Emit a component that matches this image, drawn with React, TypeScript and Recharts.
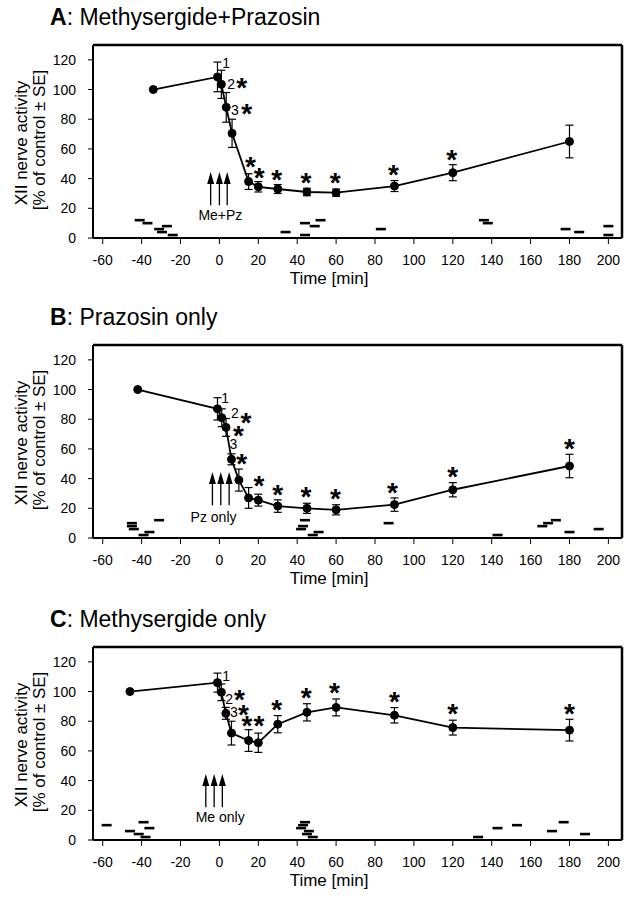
import React from "react";
import {
  ComposedChart,
  ErrorBar,
  Line,
  ReferenceLine,
  Scatter,
  XAxis,
  YAxis,
} from "recharts";

const FONT = "'Liberation Sans', Arial, sans-serif";

const xTicks = [-60, -40, -20, 0, 20, 40, 60, 80, 100, 120, 140, 160, 180, 200];
const yTicks = [0, 20, 40, 60, 80, 100, 120];

// A: Methysergide+Prazosin
const aTime = [-34, -1, 1, 3.5, 6.5, 15, 20, 30, 45, 60, 90, 120, 180];
const aMean = [100, 108.5, 103.5, 88, 70.5, 38, 34.5, 33, 31, 30.5, 35, 44, 65];
const aSE = [0, 10, 9.5, 10, 9.5, 5.3, 3.5, 3, 2.5, 2.5, 3.7, 5.4, 11];
const aStars = [
  { x: 11.5, y: 106 }, { x: 14, y: 88 }, { x: 16, y: 52.5 }, { x: 20.5, y: 45.3 },
  { x: 29.5, y: 44 }, { x: 44.5, y: 42 }, { x: 59.5, y: 42 }, { x: 89.5, y: 47 },
  { x: 119.5, y: 57 },
];
const aNums = [{ x: 3.4, y: 118, t: "1" }, { x: 6, y: 104, t: "2" }, { x: 8, y: 86.5, t: "3" }];
const aDashes = [
  { x: -41, y: 12 }, { x: -37, y: 10 }, { x: -31, y: 6 }, { x: -29.5, y: 4 },
  { x: -27, y: 8 }, { x: -24, y: 2 }, { x: 34, y: 4 }, { x: 44, y: 10 },
  { x: 44, y: 2 }, { x: 49, y: 8 }, { x: 52, y: 12 }, { x: 83, y: 6 },
  { x: 136, y: 12 }, { x: 138, y: 10 }, { x: 178, y: 6 }, { x: 185, y: 4 },
  { x: 200, y: 8 }, { x: 200, y: 2 },
];
const aArrows = [-4.5, 0, 4];
const aDrug = [{ x: 0.5, y: 15.5, t: "Me+Pz" }];

// B: Prazosin only
const bTime = [-42, -1, 1.2, 3.4, 6.2, 10, 15, 20, 30, 45, 60, 90, 120, 180];
const bMean = [100, 87, 81, 74.5, 53, 39, 27, 25.5, 21.5, 20, 19, 22.5, 32.5, 48.5];
const bSE = [0, 7.5, 6, 6, 3.7, 7.4, 7, 4, 4.2, 3.4, 3.4, 4.5, 4.8, 7.9];
const bStars = [
  { x: 13.6, y: 82 }, { x: 9.8, y: 73.5 }, { x: 11.5, y: 54.5 }, { x: 20.3, y: 39.5 },
  { x: 30, y: 34 }, { x: 44.5, y: 32.2 }, { x: 59.7, y: 31 }, { x: 89, y: 35 },
  { x: 120, y: 45.7 }, { x: 180, y: 65 },
];
const bNums = [{ x: 2.9, y: 94.5, t: "1" }, { x: 8, y: 84, t: "2" }, { x: 7.2, y: 63, t: "3" }];
const bDashes = [
  { x: -45, y: 10 }, { x: -45, y: 8 }, { x: -44, y: 6 }, { x: -39, y: 2 },
  { x: -36, y: 4 }, { x: -31, y: 12 }, { x: 44, y: 12 }, { x: 43, y: 8 },
  { x: 42, y: 6 }, { x: 48, y: 2 }, { x: 51, y: 4 }, { x: 87, y: 10 },
  { x: 143, y: 2 }, { x: 166, y: 8 }, { x: 169, y: 10 }, { x: 173, y: 12 },
  { x: 180, y: 4 }, { x: 195, y: 6 },
];
const bArrows = [-3.6, 0.7, 5];
const bDrug = [{ x: -3, y: 14.4, t: "Pz only" }];

// C: Methysergide only
const cTime = [-46, -1, 1, 3.3, 6.2, 15, 20, 30, 45, 60, 90, 120, 180];
const cMean = [100, 106, 99.5, 85.3, 72, 67, 65.5, 78, 86, 89.3, 84, 75.7, 74];
const cSE = [0, 6.4, 5.6, 4, 8, 7.3, 6.5, 5.8, 5.8, 5.7, 5.2, 5, 7.3];
const cStars = [
  { x: 10.3, y: 99 }, { x: 12.4, y: 88.6 }, { x: 14.1, y: 81.2 }, { x: 20.3, y: 81.2 },
  { x: 29.5, y: 92.4 }, { x: 44.6, y: 100.3 }, { x: 59.2, y: 103.8 }, { x: 90, y: 97.6 },
  { x: 120, y: 89.3 }, { x: 180, y: 89.3 },
];
const cNums = [{ x: 3.4, y: 110.8, t: "1" }, { x: 5, y: 95, t: "2" }, { x: 7.4, y: 86.3, t: "3" }];
const cDashes = [
  { x: -58, y: 10 }, { x: -46, y: 6 }, { x: -41.5, y: 4 }, { x: -39, y: 12 },
  { x: -38, y: 2 }, { x: -36, y: 8 }, { x: 44, y: 12 }, { x: 43, y: 10 },
  { x: 42, y: 8 }, { x: 46, y: 6 }, { x: 45, y: 4 }, { x: 48, y: 2 },
  { x: 133, y: 2 }, { x: 143, y: 8 }, { x: 153, y: 10 }, { x: 171, y: 6 },
  { x: 177, y: 12 }, { x: 188, y: 4 },
];
const cArrows = [-7, -2.7, 1.5];
const cDrug = [{ x: 0.4, y: 15.7, t: "Me only" }];

// chart box; plot area is what's left inside the margins + axis sizes
const W = 632;
const H = 300;
const M = { top: 45, right: 10, bottom: 32, left: 53 };
const Y_AXIS_W = 40;
const X_AXIS_H = 30;

const StarShape = (p: any) => (
  <text x={p.cx} y={p.cy + 16} textAnchor="middle" fontSize={28} fontWeight="bold" fontFamily={FONT} fill="#000">
    *
  </text>
);

const TextShape = (p: any) => (
  <text x={p.cx} y={p.cy + 5} textAnchor="middle" fontSize={14} fontFamily={FONT} fill="#000">
    {p.payload.t}
  </text>
);

const DashShape = (p: any) => (
  <line x1={p.cx - 5} x2={p.cx + 5} y1={p.cy} y2={p.cy} stroke="#000" strokeWidth={2.6} />
);

const HeadShape = (p: any) => (
  <path d={`M${p.cx},${p.cy} L${p.cx - 3.5},${p.cy + 12} L${p.cx + 3.5},${p.cy + 12} Z`} fill="#000" />
);

const frameLine = { stroke: "#000", strokeWidth: 2 };
const tickStyle = { fontSize: 14, fill: "#000", fontFamily: FONT };

function Panel(props: any) {
  const { top, letter, name, time, mean, se, stars, nums, dashes, arrows, drug } = props;
  const data = time.map((x: number, i: number) => ({ x, y: mean[i], se: se[i] }));
  const heads = arrows.map((x: number) => ({ x, y: 44.5 }));

  const plotX = M.left + Y_AXIS_W;
  const plotY = M.top;
  const plotR = W - M.right;
  const plotB = H - M.bottom - X_AXIS_H;

  return (
    <div style={{ position: "absolute", left: 0, top, width: W, height: H }}>
      <ComposedChart width={W} height={H} margin={M}>
        <XAxis
          type="number"
          dataKey="x"
          domain={[-65, 207]}
          ticks={xTicks}
          interval={0}
          height={X_AXIS_H}
          tickSize={6}
          tickMargin={11}
          tick={tickStyle}
          axisLine={frameLine}
          tickLine={{ stroke: "#000" }}
          allowDataOverflow
        />
        <YAxis
          type="number"
          dataKey="y"
          domain={[0, 130]}
          ticks={yTicks}
          interval={0}
          width={Y_AXIS_W}
          tickSize={5}
          tickMargin={12}
          tick={tickStyle}
          axisLine={frameLine}
          tickLine={{ stroke: "#000" }}
          allowDataOverflow
        />
        {arrows.map((x: number) => (
          <ReferenceLine
            key={x}
            segment={[{ x, y: 22 }, { x, y: 40 }]}
            stroke="#000"
            strokeWidth={1.3}
          />
        ))}
        <Scatter data={heads} dataKey="y" shape={HeadShape} isAnimationActive={false} />
        <Scatter data={drug} dataKey="y" shape={TextShape} isAnimationActive={false} />
        <Scatter data={dashes} dataKey="y" shape={DashShape} isAnimationActive={false} />
        <Line
          data={data}
          dataKey="y"
          type="linear"
          stroke="#000"
          strokeWidth={1.8}
          dot={{ r: 4, fill: "#000", stroke: "#000", strokeWidth: 1 }}
          isAnimationActive={false}
        >
          <ErrorBar dataKey="se" width={4} stroke="#000" strokeWidth={1.2} direction="y" isAnimationActive={false} />
        </Line>
        <Scatter data={stars} dataKey="y" shape={StarShape} isAnimationActive={false} />
        <Scatter data={nums} dataKey="y" shape={TextShape} isAnimationActive={false} />
      </ComposedChart>
      <svg
        width={W}
        height={H}
        style={{ position: "absolute", left: 0, top: 0, pointerEvents: "none" }}
        fontFamily={FONT}
      >
        {/* top and right edges of the box around the plot */}
        <line x1={plotX} y1={plotY} x2={plotR} y2={plotY} stroke="#000" strokeWidth={2.5} />
        <line x1={plotR} y1={plotY} x2={plotR} y2={plotB} stroke="#000" strokeWidth={2.5} />
        <text x={50} y={25} fontSize={23} fill="#000">
          <tspan fontWeight="bold">{letter}</tspan>
          <tspan>{name}</tspan>
        </text>
        <text x={27} y={143} fontSize={17} textAnchor="middle" transform="rotate(-90 27 143)" fill="#000">
          XII nerve activity
        </text>
        <text x={45} y={140} fontSize={17} textAnchor="middle" transform="rotate(-90 45 140)" fill="#000">
          [% of control ± SE]
        </text>
        <text x={329} y={284} fontSize={17} textAnchor="middle" fill="#000">
          Time [min]
        </text>
      </svg>
    </div>
  );
}

export default function App() {
  return (
    <div style={{ position: "absolute", left: 0, top: 0, width: 632, height: 898, background: "#fff" }}>
      <Panel
        top={0}
        letter="A"
        name=": Methysergide+Prazosin"
        time={aTime}
        mean={aMean}
        se={aSE}
        stars={aStars}
        nums={aNums}
        dashes={aDashes}
        arrows={aArrows}
        drug={aDrug}
      />
      <Panel
        top={300}
        letter="B"
        name=": Prazosin only"
        time={bTime}
        mean={bMean}
        se={bSE}
        stars={bStars}
        nums={bNums}
        dashes={bDashes}
        arrows={bArrows}
        drug={bDrug}
      />
      <Panel
        top={602}
        letter="C"
        name=": Methysergide only"
        time={cTime}
        mean={cMean}
        se={cSE}
        stars={cStars}
        nums={cNums}
        dashes={cDashes}
        arrows={cArrows}
        drug={cDrug}
      />
    </div>
  );
}
